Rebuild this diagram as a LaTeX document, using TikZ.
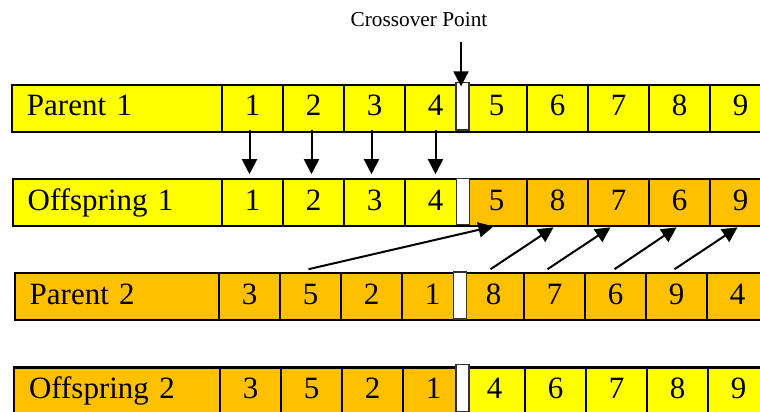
\documentclass[tikz,border=0pt]{standalone}
\usepackage{fontspec}
\setmainfont{Liberation Serif}
\usetikzlibrary{arrows.meta}
\definecolor{cyel}{HTML}{FFFF00}
\definecolor{corg}{HTML}{FFC000}
\begin{document}
\begin{tikzpicture}[x=1pt,y=-1pt,
  cell/.style={draw=black, line width=2.2pt, minimum width=61pt, inner xsep=0pt, inner ysep=0pt,
    text height=31pt, text depth=16pt, font=\fontsize{31}{31}\selectfont},
  lab/.style={draw=black, line width=2.2pt, inner ysep=0pt, inner xsep=15pt,
    text height=31pt, text depth=16pt, align=left, font=\fontsize{31}{31}\selectfont},
  cutmark/.style={draw=black!80, fill=white, line width=1.6pt, minimum width=13pt, inner sep=0pt},
  arr/.style={line width=2pt, -{Triangle[width=15pt,length=15pt]}}
]
\useasboundingbox (0,0) rectangle (760,412);
\fill[white] (0,0) rectangle (760,412);
\clip (0,0) rectangle (760,412);

% Crossover label
\node[font=\fontsize{21.3}{22}\selectfont, inner sep=0pt] (cpl) at (419,20) {Crossover Point};

% Row 1: Parent 1
\node[lab, fill=cyel, text width=180pt] (p1) at (117,108.2) {Parent 1};
\foreach \v [count=\k] in {1,2,3,4,5,6,7,8,9}
  \node[cell, fill=cyel] (p1c\k) at ({222+61*\k-30.5},108.2) {\v};

% Row 2: Offspring 1
\node[lab, fill=cyel, text width=179.3pt] (o1) at (117.35,202.8) {Offspring 1};
\foreach \v/\k in {1/1,2/2,3/3,4/4}
  \node[cell, fill=cyel] (o1c\k) at ({222+61*\k-30.5},202.8) {\v};
\foreach \v/\k in {5/5,8/6,7/7,6/8,9/9}
  \node[cell, fill=corg] (o1c\k) at ({222+61*\k-30.5},202.8) {\v};

% Row 3: Parent 2
\node[lab, fill=corg, text width=174.3pt] (p2) at (116.85,296.8) {Parent 2};
\foreach \v [count=\k] in {3,5,2,1,8,7,6,9,4}
  \node[cell, fill=corg] (p2c\k) at ({219+61*\k-30.5},296.8) {\v};

% Row 4: Offspring 2
\node[lab, fill=corg, text width=176pt] (o2) at (117,391) {Offspring 2};
\foreach \v/\k in {3/1,5/2,2/3,1/4}
  \node[cell, fill=corg] (o2c\k) at ({220+61*\k-30.5},391) {\v};
\foreach \v/\k in {4/5,6/6,7/7,8/8,9/9}
  \node[cell, fill=cyel] (o2c\k) at ({220+61*\k-30.5},391) {\v};

% Crossover markers
\node[cutmark, minimum height=47.3pt] (m1) at (462.5,106.3) {};
\node[cutmark, minimum height=46pt] (m2) at (463,201.3) {};
\node[cutmark, minimum height=47pt] (m3) at (460,295.5) {};
\node[cutmark, minimum height=47pt] (m4) at (462.7,388) {};

% Crossover arrow
\coordinate (cps) at (461,41.7);
\draw[arr] (cps) -- ([xshift=-1.5pt,yshift=-4.5pt]m1.north);

% Copy arrows Parent 1 -> Offspring 1
\foreach \k/\dx in {1/-3,2/-2,3/-3,4/0}
  \draw[arr] ([xshift=\dx pt,yshift=3pt]p1c\k.south) -- ([xshift=\dx pt,yshift=4pt]o1c\k.north);

% Order arrows Parent 2 -> Offspring 1
\draw[arr] ([xshift=-2pt,yshift=3pt]p2c2.north) -- ([xshift=-3pt,yshift=1pt]o1c5.south);
\draw[arr] ([xshift=-3pt,yshift=3pt]p2c5.north) -- ([xshift=-4pt]o1c6.south);
\draw[arr] ([xshift=-7pt,yshift=3pt]p2c6.north) -- ([xshift=-8pt]o1c7.south);
\draw[arr] ([xshift=-1pt,yshift=3pt]p2c7.north) -- ([xshift=-3pt]o1c8.south);
\draw[arr] ([xshift=-2pt,yshift=3pt]p2c8.north) -- ([xshift=-3pt]o1c9.south);
\end{tikzpicture}
\end{document}
